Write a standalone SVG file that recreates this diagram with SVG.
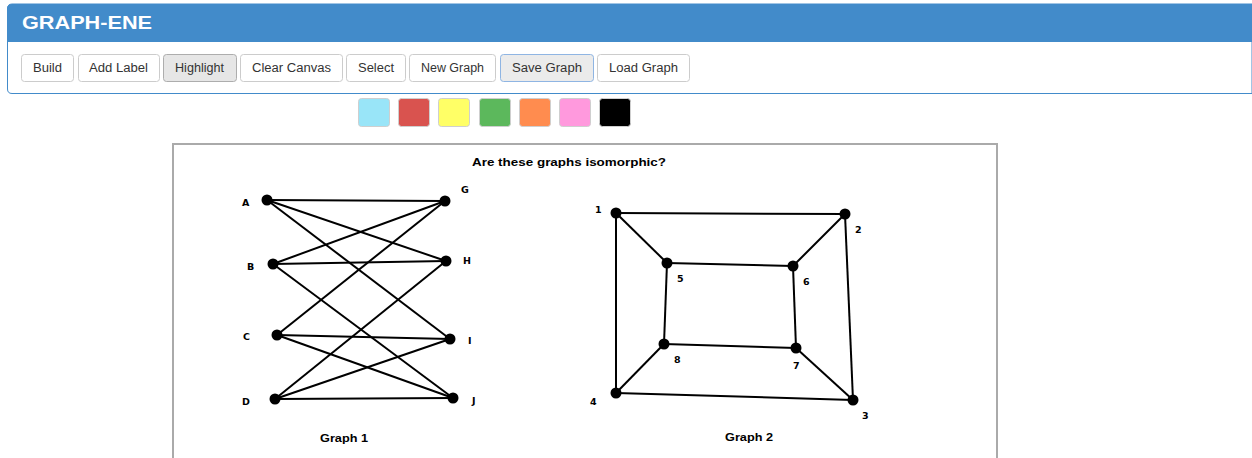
<svg xmlns="http://www.w3.org/2000/svg" width="1252" height="458" viewBox="0 0 1252 458">
<style>
.btn rect{fill:#fff;stroke:#cccccc;stroke-width:1}
.btn text{font-family:"Liberation Sans",Arial,sans-serif;font-size:12px;fill:#333;text-anchor:middle}
.sw{stroke:#cfcfcf;stroke-width:1}
.e line{stroke:#000;stroke-width:2}
.n circle{fill:#000}
.lbl{font-family:"DejaVu Sans",Verdana,sans-serif;font-size:9.5px;font-weight:bold;fill:#000}
.cap{font-family:"Liberation Sans",Arial,sans-serif;font-size:11px;font-weight:bold;fill:#000;text-anchor:middle}
</style>
<rect width="1252" height="458" fill="#fff"/>
<g id="panel">
<path d="M7.5 9 Q7.5 4 12 4 H1252 V93.5 H12 Q7.5 93.5 7.5 89 Z" fill="#fff" stroke="#428bca" stroke-width="1"/>
<path d="M7 9 Q7 4 12 4 H1252 V42 H7 Z" fill="#428bca"/>
<text x="22" y="29" font-family="Liberation Sans,Arial,sans-serif" font-size="19" font-weight="bold" fill="#fff" textLength="130" lengthAdjust="spacingAndGlyphs">GRAPH-ENE</text>
</g>
<g id="buttons">
<g class="btn" id="btn-build"><rect x="21.5" y="54.5" width="52" height="27" rx="3"/><text x="47.5" y="72" textLength="29" lengthAdjust="spacingAndGlyphs">Build</text></g>
<g class="btn" id="btn-addlabel"><rect x="78.5" y="54.5" width="81" height="27" rx="3"/><text x="118.5" y="72" textLength="59" lengthAdjust="spacingAndGlyphs">Add Label</text></g>
<g class="btn" id="btn-highlight"><rect x="163.5" y="54.5" width="73" height="27" rx="3" style="fill:#e6e6e6;stroke:#adadad"/><text x="199.5" y="72" textLength="49" lengthAdjust="spacingAndGlyphs">Highlight</text></g>
<g class="btn" id="btn-clear"><rect x="240.5" y="54.5" width="102" height="27" rx="3"/><text x="291.5" y="72" textLength="79" lengthAdjust="spacingAndGlyphs">Clear Canvas</text></g>
<g class="btn" id="btn-select"><rect x="346.5" y="54.5" width="59" height="27" rx="3"/><text x="376" y="72" textLength="36" lengthAdjust="spacingAndGlyphs">Select</text></g>
<g class="btn" id="btn-new"><rect x="409.5" y="54.5" width="86" height="27" rx="3"/><text x="452.5" y="72" textLength="63" lengthAdjust="spacingAndGlyphs">New Graph</text></g>
<g class="btn" id="btn-save"><rect x="500.5" y="54.5" width="93" height="27" rx="3" style="fill:#ebebeb;stroke:#8fb5e3"/><text x="547" y="72" textLength="70" lengthAdjust="spacingAndGlyphs">Save Graph</text></g>
<g class="btn" id="btn-load"><rect x="597.5" y="54.5" width="92" height="27" rx="3"/><text x="643.5" y="72" textLength="69" lengthAdjust="spacingAndGlyphs">Load Graph</text></g>
</g>
<g id="swatches">
<rect class="sw" x="358.5" y="98.5" width="31" height="28" rx="3" fill="#99e5f8"/>
<rect class="sw" x="398.5" y="98.5" width="31" height="28" rx="3" fill="#d9534f"/>
<rect class="sw" x="438.5" y="98.5" width="31" height="28" rx="3" fill="#ffff66"/>
<rect class="sw" x="479.5" y="98.5" width="31" height="28" rx="3" fill="#5cb85c"/>
<rect class="sw" x="519.5" y="98.5" width="31" height="28" rx="3" fill="#ff8c4f"/>
<rect class="sw" x="559.5" y="98.5" width="31" height="28" rx="3" fill="#ff99dd"/>
<rect class="sw" x="599.5" y="98.5" width="31" height="28" rx="3" fill="#000"/>
</g>
<g id="canvas">
<rect x="173" y="144" width="824" height="320" fill="#fff" stroke="#aaaaaa" stroke-width="2"/>
<text class="cap" x="569" y="166" textLength="194" lengthAdjust="spacingAndGlyphs">Are these graphs isomorphic?</text>
<text class="cap" x="344" y="442" textLength="48" lengthAdjust="spacingAndGlyphs">Graph 1</text>
<text class="cap" x="749" y="441" textLength="48" lengthAdjust="spacingAndGlyphs">Graph 2</text>
</g>
<g id="connectors" class="e">
<line x1="267" y1="200" x2="445" y2="201"/>
<line x1="267" y1="200" x2="446" y2="261"/>
<line x1="267" y1="200" x2="450" y2="339"/>
<line x1="273" y1="264" x2="445" y2="201"/>
<line x1="273" y1="264" x2="446" y2="261"/>
<line x1="273" y1="264" x2="453" y2="398"/>
<line x1="277" y1="335" x2="445" y2="201"/>
<line x1="277" y1="335" x2="450" y2="339"/>
<line x1="277" y1="335" x2="453" y2="398"/>
<line x1="275" y1="399" x2="446" y2="261"/>
<line x1="275" y1="399" x2="450" y2="339"/>
<line x1="275" y1="399" x2="453" y2="398"/>
<line x1="616" y1="213" x2="845" y2="214"/>
<line x1="616" y1="213" x2="667" y2="263"/>
<line x1="616" y1="213" x2="616" y2="393"/>
<line x1="845" y1="214" x2="793" y2="266"/>
<line x1="845" y1="214" x2="853" y2="400"/>
<line x1="667" y1="263" x2="793" y2="266"/>
<line x1="667" y1="263" x2="664" y2="344"/>
<line x1="793" y1="266" x2="796" y2="348"/>
<line x1="664" y1="344" x2="796" y2="348"/>
<line x1="664" y1="344" x2="616" y2="393"/>
<line x1="796" y1="348" x2="853" y2="400"/>
<line x1="616" y1="393" x2="853" y2="400"/>
</g>
<g id="node-A" class="n"><circle cx="267" cy="200" r="5.5"/><text class="lbl" x="242" y="206">A</text></g>
<g id="node-B" class="n"><circle cx="273" cy="264" r="5.5"/><text class="lbl" x="247" y="270">B</text></g>
<g id="node-C" class="n"><circle cx="277" cy="335" r="5.5"/><text class="lbl" x="243" y="340">C</text></g>
<g id="node-D" class="n"><circle cx="275" cy="399" r="5.5"/><text class="lbl" x="242" y="405">D</text></g>
<g id="node-G" class="n"><circle cx="445" cy="201" r="5.5"/><text class="lbl" x="461" y="193">G</text></g>
<g id="node-H" class="n"><circle cx="446" cy="261" r="5.5"/><text class="lbl" x="463" y="264">H</text></g>
<g id="node-I" class="n"><circle cx="450" cy="339" r="5.5"/><text class="lbl" x="468" y="344">I</text></g>
<g id="node-J" class="n"><circle cx="453" cy="398" r="5.5"/><text class="lbl" x="472" y="404">J</text></g>
<g id="node-1" class="n"><circle cx="616" cy="213" r="5.5"/><text class="lbl" x="595" y="213">1</text></g>
<g id="node-2" class="n"><circle cx="845" cy="214" r="5.5"/><text class="lbl" x="855" y="233">2</text></g>
<g id="node-3" class="n"><circle cx="853" cy="400" r="5.5"/><text class="lbl" x="862" y="419">3</text></g>
<g id="node-4" class="n"><circle cx="616" cy="393" r="5.5"/><text class="lbl" x="590" y="405">4</text></g>
<g id="node-5" class="n"><circle cx="667" cy="263" r="5.5"/><text class="lbl" x="677" y="282">5</text></g>
<g id="node-6" class="n"><circle cx="793" cy="266" r="5.5"/><text class="lbl" x="803" y="285">6</text></g>
<g id="node-7" class="n"><circle cx="796" cy="348" r="5.5"/><text class="lbl" x="793" y="369">7</text></g>
<g id="node-8" class="n"><circle cx="664" cy="344" r="5.5"/><text class="lbl" x="674" y="363">8</text></g>
</svg>
